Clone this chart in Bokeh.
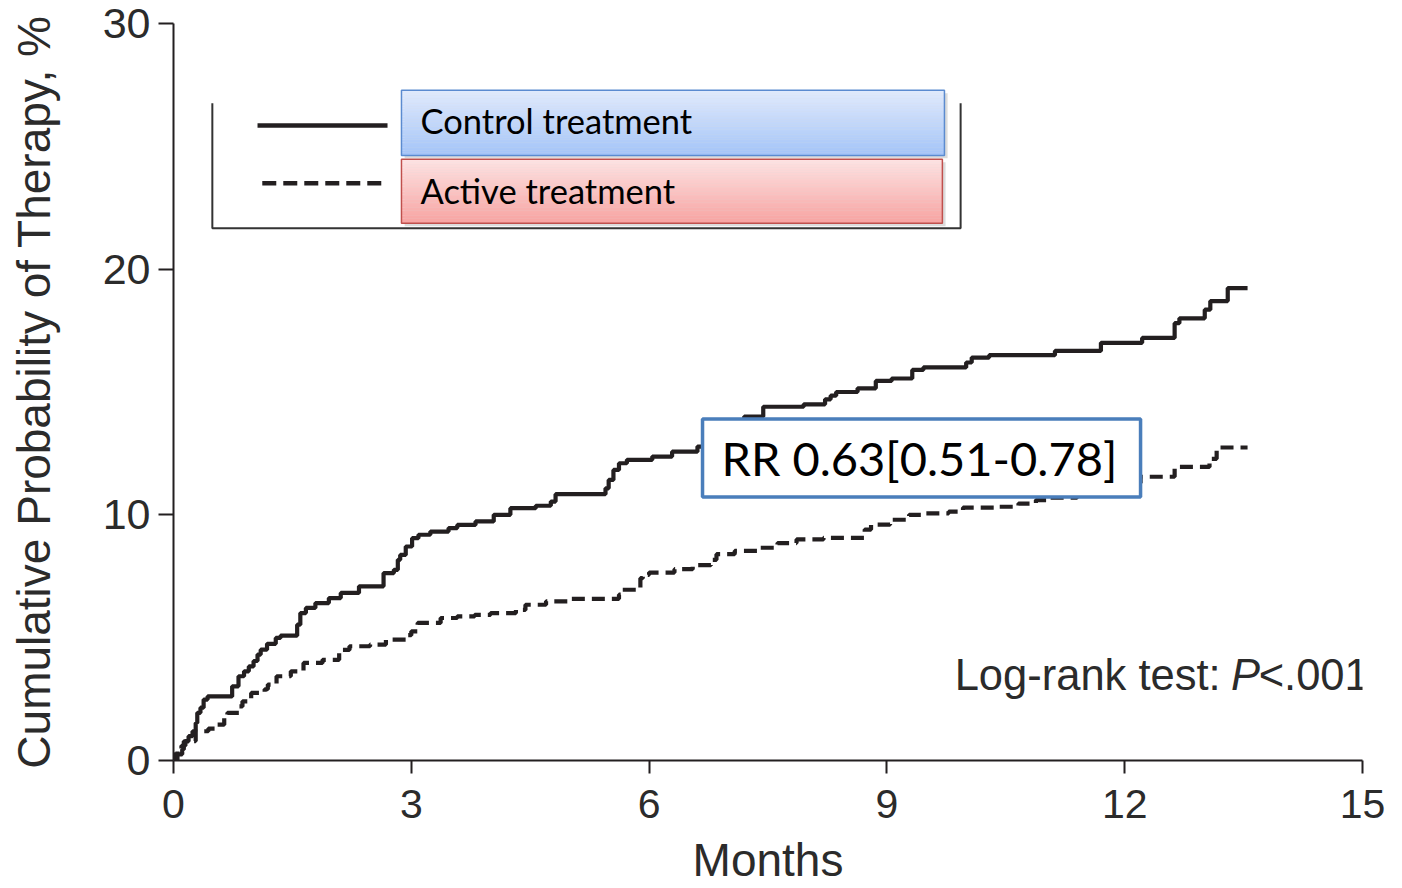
from bokeh.plotting import figure
from bokeh.models import Range1d, Label, FixedTicker
from bokeh.embed import file_html
from bokeh.resources import INLINE

# Cumulative probability of therapy (%) by month, step data for each arm
control_months = [0, 0.01, 0.11, 0.13, 0.19, 0.24, 0.28, 0.30, 0.34, 0.38, 0.43, 0.74, 0.82,
                  0.89, 0.95, 1.01, 1.06, 1.10, 1.18, 1.29, 1.35, 1.56, 1.60, 1.67, 1.79, 1.96,
                  2.11, 2.34, 2.65, 2.78, 2.83, 2.86, 2.93, 3.01, 3.09, 3.24, 3.47, 3.58, 3.81,
                  4.04, 4.25, 4.57, 4.76, 4.82, 5.45, 5.49, 5.55, 5.62, 5.72, 6.04, 6.29, 6.61,
                  6.85, 7.05, 7.20, 7.44, 7.95, 8.22, 8.29, 8.36, 8.63, 8.86, 9.06, 9.32, 9.46,
                  10.00, 10.07, 10.29, 11.12, 11.70, 12.22, 12.63, 12.69, 13.01, 13.08, 13.30,
                  13.55]
control_pct = [0, 0.25, 0.45, 0.78, 0.99, 1.19, 1.53, 1.94, 2.15, 2.48, 2.61, 3.02, 3.43,
               3.63, 3.83, 4.05, 4.31, 4.51, 4.75, 4.99, 5.08, 5.53, 6.00, 6.21, 6.41, 6.61,
               6.82, 7.09, 7.63, 7.76, 8.17, 8.37, 8.71, 9.05, 9.19, 9.32, 9.46, 9.59, 9.73,
               10.00, 10.27, 10.37, 10.54, 10.84, 11.08, 11.42, 11.83, 12.10, 12.24, 12.37,
               12.57, 12.78, 13.10, 13.50, 14.00, 14.40, 14.50, 14.70, 14.85, 15.00, 15.15,
               15.45, 15.55, 15.90, 16.00, 16.20, 16.40, 16.50, 16.67, 17.00, 17.20, 17.80,
               18.00, 18.35, 18.70, 19.23, 19.23]

active_months = [0, 0.05, 0.10, 0.15, 0.28, 0.44, 0.52, 0.64, 0.68, 0.83, 0.87, 0.98, 1.15,
                 1.19, 1.30, 1.48, 1.64, 1.88, 2.09, 2.22, 2.48, 2.68, 2.95, 3.00, 3.08, 3.37,
                 3.58, 3.80, 4.00, 4.32, 4.44, 4.70, 5.02, 5.62, 5.66, 5.89, 5.92, 6.00, 6.32,
                 6.55, 6.78, 6.85, 7.08, 7.38, 7.62, 7.86, 8.20, 8.72, 8.80, 9.04, 9.28, 9.48,
                 9.78, 9.96, 10.38, 10.66, 10.88, 11.04, 11.40, 11.80, 12.20, 12.63, 13.07,
                 13.16, 13.55]
active_pct = [0, 0.40, 0.60, 0.79, 1.19, 1.30, 1.46, 1.75, 1.94, 2.20, 2.41, 2.75, 2.90,
              3.09, 3.43, 3.63, 3.97, 4.10, 4.50, 4.65, 4.72, 4.92, 5.10, 5.26, 5.60, 5.80,
              5.87, 5.93, 6.00, 6.13, 6.34, 6.48, 6.58, 6.75, 6.95, 7.42, 7.56, 7.65, 7.79,
              7.95, 8.17, 8.40, 8.53, 8.66, 8.85, 9.00, 9.06, 9.40, 9.60, 9.80, 10.00, 10.06,
              10.13, 10.29, 10.33, 10.46, 10.60, 10.70, 10.95, 11.30, 11.55, 11.95, 12.28,
              12.74, 12.74]

x_ticks = [0, 3, 6, 9, 12, 15]
y_ticks = [0, 10, 20, 30]
series_names = ["Control treatment", "Active treatment"]
x_title = "Months"
y_title = "Cumulative Probability of Therapy, %"
rr_text = "RR 0.63[0.51-0.78]"
test_parts = ["Log-rank test:", "P", "<.001"]

INK = "#231f20"
AXIS_FONT = "Liberation Sans"
BOX_FONT = "Lato"

p = figure(width=1402, height=888,
           x_range=Range1d(0, 15), y_range=Range1d(0, 30),
           output_backend="svg", toolbar_location=None,
           min_border_left=173, min_border_right=40,
           min_border_top=23, min_border_bottom=127)
p.outline_line_color = None
p.grid.visible = False
p.background_fill_color = "white"
p.border_fill_color = "white"

for ax, ticks in ((p.xaxis, x_ticks), (p.yaxis, y_ticks)):
    ax.ticker = FixedTicker(ticks=ticks)
    ax.axis_line_color = INK
    ax.axis_line_width = 2
    ax.major_tick_line_color = INK
    ax.major_tick_line_width = 2
    ax.major_tick_in = 0
    ax.minor_tick_line_color = None
    ax.major_label_text_font = AXIS_FONT
    ax.major_label_text_color = "#2b2b2b"
    ax.axis_label_text_font = AXIS_FONT
    ax.axis_label_text_font_style = "normal"
    ax.axis_label_text_color = "#2b2b2b"

p.xaxis.axis_label = x_title
p.xaxis.major_tick_out = 13
p.xaxis.major_label_text_font_size = "41px"
p.xaxis.major_label_standoff = 16
p.xaxis.axis_label_text_font_size = "46px"
p.xaxis.axis_label_standoff = 13

p.yaxis.axis_label = y_title
p.yaxis.major_tick_out = 15
p.yaxis.major_label_text_font_size = "43px"
p.yaxis.major_label_standoff = 8
p.yaxis.axis_label_text_font_size = "46px"
p.yaxis.axis_label_standoff = 40

# Kaplan-Meier style step curves
p.step(control_months, control_pct, mode="after", line_width=4.2, line_color=INK)
p.step(active_months, active_pct, mode="after", line_width=4.2, line_color=INK,
       line_dash="13 7")

# Legend: open frame, line samples and gradient-filled name boxes
p.line([0.49, 0.49, 9.93, 9.93], [26.75, 21.67, 21.67, 26.75], line_width=2, line_color="#333333")
p.line([1.06, 2.70], [25.85, 25.85], line_width=4.5, line_color=INK)
p.line([1.12, 2.70], [23.50, 23.50], line_width=4.5, line_color=INK, line_dash="14 7")


def gradient_box(left, right, top, bottom, c_top, c_bot, edge, n=40):
    h = (top - bottom) / n
    lefts, rights, tops, bottoms, cols = [], [], [], [], []
    for i in range(n):
        f = i / (n - 1)
        rgb = tuple(int(round(a + (b - a) * f)) for a, b in zip(c_top, c_bot))
        lefts.append(left)
        rights.append(right)
        tops.append(top - i * h)
        bottoms.append(top - (i + 1) * h - 0.01)
        cols.append("#%02x%02x%02x" % rgb)
    # soft drop shadow
    p.quad(left=left + 0.04, right=right + 0.04, top=top - 0.12, bottom=bottom - 0.12,
           fill_color="#9a9a9a", fill_alpha=0.35, line_color=None)
    p.quad(left=lefts, right=rights, top=tops, bottom=bottoms, fill_color=cols, line_color=None)
    p.quad(left=left, right=right, top=top, bottom=bottom, fill_color=None,
           line_color=edge, line_width=1.5)


gradient_box(2.876, 9.726, 27.28, 24.63, (224, 234, 252), (164, 196, 248), "#5b8bd0")
gradient_box(2.876, 9.700, 24.47, 21.87, (253, 226, 226), (247, 164, 162), "#c0504d")

for name, yc in zip(series_names, (26.05, 23.22)):
    p.add_layout(Label(x=3.116, y=yc, text=name, text_font=BOX_FONT, text_font_size="34.5px",
                       text_color="black", text_baseline="middle", text_align="left"))

# Relative-risk annotation box
p.quad(left=6.674, right=12.20, top=13.90, bottom=10.73, fill_color="white",
       line_color="#4a7ebb", line_width=3.5)
p.add_layout(Label(x=9.41, y=12.30, text=rr_text, text_font=BOX_FONT, text_font_size="47px",
                   text_color="black", text_align="center", text_baseline="middle"))

# Log-rank test note with italic P (kept inside the plot frame)
ty = 3.50
tx = 13.21
p.add_layout(Label(x=tx, y=ty, text=test_parts[0], text_font=AXIS_FONT,
                   text_font_size="43.5px", text_color="#2b2b2b", text_align="right",
                   text_baseline="alphabetic"))
p.add_layout(Label(x=tx + 0.13, y=ty, text=test_parts[1], text_font=AXIS_FONT,
                   text_font_size="43.5px", text_font_style="italic", text_color="#2b2b2b",
                   text_align="left", text_baseline="alphabetic"))
p.add_layout(Label(x=tx + 0.48, y=ty, text=test_parts[2], text_font=AXIS_FONT,
                   text_font_size="43.5px", text_color="#2b2b2b", text_align="left",
                   text_baseline="alphabetic"))

open("out.html", "w").write(file_html(p, INLINE))
